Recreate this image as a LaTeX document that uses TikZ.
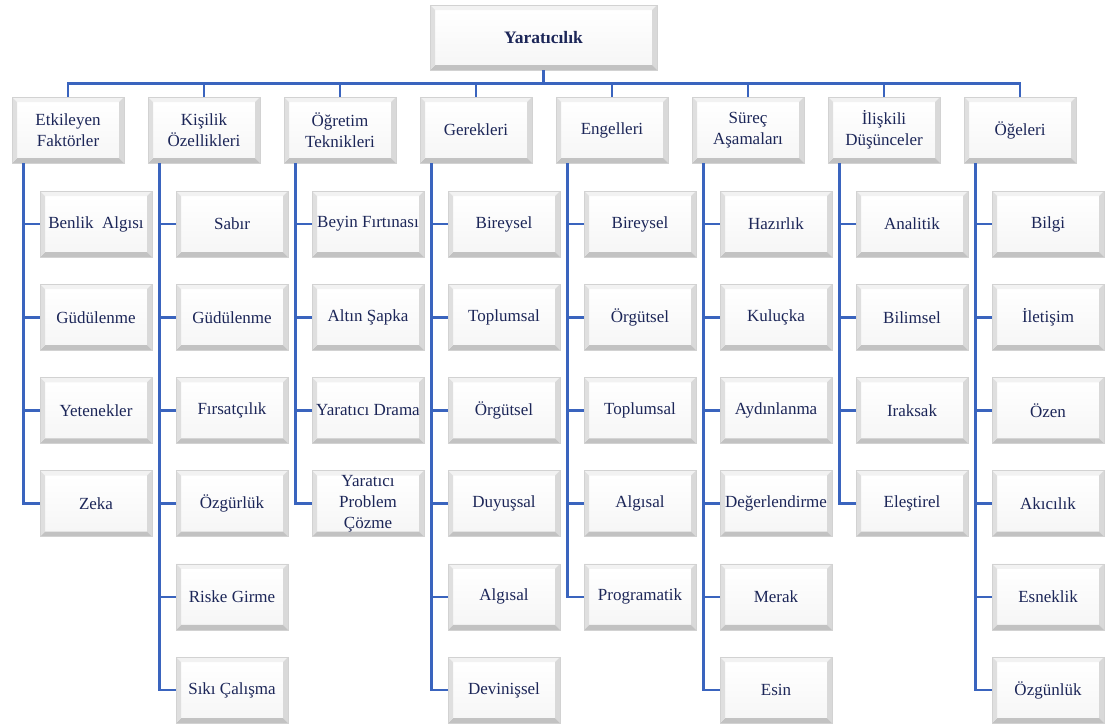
\documentclass[tikz,border=0pt]{standalone}
\usepackage{fontspec}
\setmainfont{Liberation Serif}
\definecolor{inkblue}{RGB}{28,38,88}
\definecolor{linkblue}{RGB}{58,100,190}
\tikzset{
  x=1pt, y=-1pt,
  bevelbox/.style={
    draw=gray!35, line width=0.6pt, fill=white,
    minimum width=112pt, minimum height=66pt, inner sep=2pt,
    align=center, text=inkblue,
    font=\fontsize{17}{21}\selectfont,
    path picture={
      \path (path picture bounding box.north west) coordinate (pa)
            (path picture bounding box.north east) coordinate (pb)
            (path picture bounding box.south east) coordinate (pc)
            (path picture bounding box.south west) coordinate (pd);
      \shade[top color=white, bottom color=gray!7]
        ([shift={(5pt,-5pt)}]pa) rectangle ([shift={(-5pt,5pt)}]pc);
      \fill[gray!10] (pa) -- (pb) -- ([shift={(-5pt,-5pt)}]pb) -- ([shift={(5pt,-5pt)}]pa) -- cycle;
      \fill[gray!30] (pb) -- (pc) -- ([shift={(-5pt,5pt)}]pc) -- ([shift={(-5pt,-5pt)}]pb) -- cycle;
      \fill[gray!48] (pc) -- (pd) -- ([shift={(5pt,5pt)}]pd) -- ([shift={(-5pt,5pt)}]pc) -- cycle;
      \fill[gray!25] (pd) -- (pa) -- ([shift={(5pt,-5pt)}]pa) -- ([shift={(5pt,5pt)}]pd) -- cycle;
    }},
  link/.style={draw=linkblue, line width=2.6pt}
}
\begin{document}
\begin{tikzpicture}
\useasboundingbox (0,0) rectangle (1107,724);

% root
\node[bevelbox, minimum width=227pt, minimum height=65pt,
      font=\fontsize{17.5}{21}\selectfont\bfseries] (root) at (543.5,37.5) {Yaratıcılık};

% categories
\foreach \i/\t in {1/{Etkileyen\\Faktörler}, 2/{Kişilik\\Özellikleri}, 3/{Öğretim\\Teknikleri},
                   4/{Gerekleri}, 5/{Engelleri}, 6/{Süreç\\Aşamaları},
                   7/{İlişkili\\Düşünceler}, 8/{Öğeleri}}
  \node[bevelbox] (c\i) at ({68+136*(\i-1)},130) {\t};

% sub-items of each category
\foreach \i/\items in {
    1/{Benlik\ \ Algısı, Güdülenme, Yetenekler, Zeka},
    2/{Sabır, Güdülenme, Fırsatçılık, Özgürlük, Riske Girme, Sıkı Çalışma},
    3/{Beyin Fırtınası, Altın Şapka, Yaratıcı Drama, {Yaratıcı\\Problem\\Çözme}},
    4/{Bireysel, Toplumsal, Örgütsel, Duyuşsal, Algısal, Devinişsel},
    5/{Bireysel, Örgütsel, Toplumsal, Algısal, Programatik},
    6/{Hazırlık, Kuluçka, Aydınlanma, Değerlendirme, Merak, Esin},
    7/{Analitik, Bilimsel, Iraksak, Eleştirel},
    8/{Bilgi, İletişim, Özen, Akıcılık, Esneklik, Özgünlük}}
{
  \foreach \t [count=\j] in \items {
    \node[bevelbox] (c\i-\j) at ({96+136*(\i-1)},{224+93.2*(\j-1)}) {\t};
    \draw[link] ([xshift=12pt]c\i.south west) |- (c\i-\j.west);
  }
}

% root to categories
\foreach \i in {1,...,8}
  \draw[link] (root.south) -- ++(0,13) -| (c\i.north);
\end{tikzpicture}
\end{document}
